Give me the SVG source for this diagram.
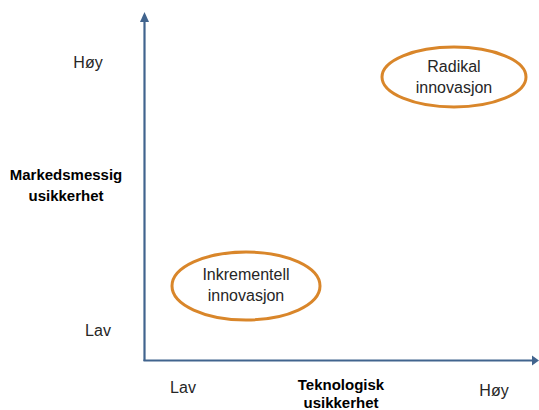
<svg xmlns="http://www.w3.org/2000/svg" width="539" height="410" viewBox="0 0 539 410">
<defs>
<style>
.ax{stroke:#41648e;stroke-width:2.2;fill:none}
.ah{fill:#41648e}
.ell{fill:#fff;stroke:#d9862a;stroke-width:3}
.t{font-family:"Liberation Sans",Arial,sans-serif;font-size:16px;fill:#262626;text-anchor:middle}
.b{font-family:"Liberation Sans",Arial,sans-serif;font-size:15px;font-weight:bold;fill:#000;text-anchor:middle}
</style>
</defs>
<rect width="539" height="410" fill="#fff"/>
<g id="connectors">
<path class="ax" d="M144.5,361 V21"/>
<polygon class="ah" points="144.5,12 140,22 149,22"/>
<path class="ax" d="M143.5,360.5 H532"/>
<polygon class="ah" points="539,360.5 532,355.5 532,365.5"/>
</g>
<g id="y-labels">
<text class="t" x="88" y="68">Høy</text>
<text class="b" x="66" y="180">Markedsmessig</text>
<text class="b" x="66" y="201">usikkerhet</text>
<text class="t" x="98" y="336">Lav</text>
</g>
<g id="x-labels">
<text class="t" x="183" y="393">Lav</text>
<text class="b" x="341" y="390">Teknologisk</text>
<text class="b" x="341" y="408">usikkerhet</text>
<text class="t" x="494" y="396">Høy</text>
</g>
<g id="radikal">
<ellipse class="ell" cx="454" cy="77" rx="72" ry="30"/>
<text class="t" x="454" y="72">Radikal</text>
<text class="t" x="454" y="93">innovasjon</text>
</g>
<g id="inkrementell">
<ellipse class="ell" cx="246" cy="286" rx="74" ry="34"/>
<text class="t" x="246" y="280">Inkrementell</text>
<text class="t" x="246" y="301">innovasjon</text>
</g>
</svg>
